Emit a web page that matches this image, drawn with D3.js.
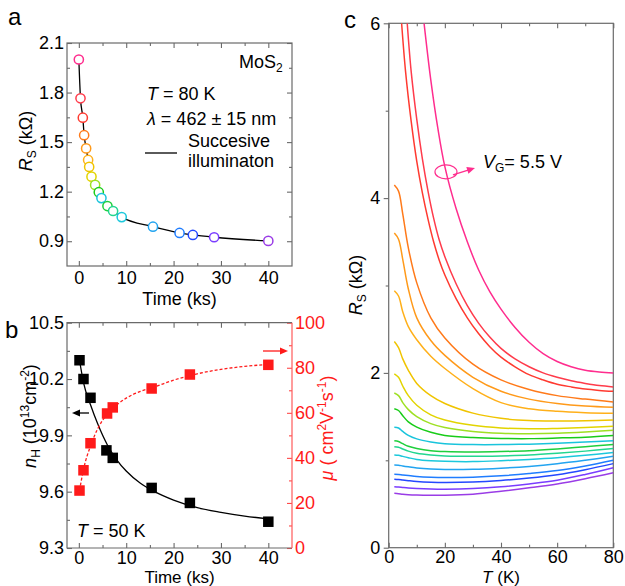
<!DOCTYPE html>
<html>
<head>
<meta charset="utf-8">
<script src="https://cdn.jsdelivr.net/npm/d3@7"></script>
<style>
  body { margin: 0; background: #fff; }
  svg text { font-family: Arial, "Liberation Sans", sans-serif; }
</style>
</head>
<body>
<svg id="fig" width="625" height="586"></svg>
<script>
// ---- panel a : R_s vs time under successive illumination ----
var timeA = [0, 0.35, 0.84, 1.12, 1.54, 1.96, 2.18, 2.67, 3.44, 4.21, 4.77, 6.04, 7.23, 9.05, 15.65, 21.26, 24.07, 28.56, 40];
var rsA = [2.00, 1.765, 1.648, 1.542, 1.462, 1.392, 1.35, 1.291, 1.241, 1.197, 1.161, 1.113, 1.083, 1.046, 0.988, 0.950, 0.938, 0.924, 0.902];
var stepColors = ['#ff2d8e', '#ff3b4b', '#ff3a30', '#ff7a1a', '#ff9a1a', '#ffb01a', '#f0c400', '#e2d400', '#9ee023',
                  '#18cc18', '#19c4dc', '#1fcf3d', '#22d690', '#1cc8dc', '#22a4f0', '#1f7dff', '#2448ff', '#7a3cff', '#9a3ce6'];

// ---- panel b : Hall density and mobility ----
var timeB = [0.14, 0.98, 2.46, 5.82, 7.16, 15.37, 23.44, 40];
var nH = [10.30, 10.20, 10.10, 9.82, 9.78, 9.62, 9.54, 9.44];
var timeMu = [0.14, 0.98, 2.46, 5.96, 7.16, 15.37, 23.44, 40];
var mu = [25.5, 34.5, 46.5, 59.7, 62.4, 70.8, 77.0, 81.3];
var nHFitT = [0.14, 1, 2.5, 4, 6, 8, 10, 13, 16, 20, 25, 30, 35, 40];
var nHFit = [10.30, 10.18, 10.06, 9.96, 9.85, 9.77, 9.71, 9.645, 9.60, 9.555, 9.515, 9.49, 9.47, 9.455];
var muFitT = [0.14, 1, 2.5, 4, 6, 8, 10, 13, 16, 20, 25, 30, 35, 40];
var muFit = [25.5, 35, 45.5, 53, 59.5, 63.5, 66.5, 69.5, 71.5, 74.5, 77.3, 79.3, 80.6, 81.5];

// ---- panel c : R_s(T) for each gate step ----
var tGrid = [2, 3.5, 5, 7, 10, 15, 20, 30, 40, 50, 60, 70, 80];
var curveTop = [
  [[12.6, 6], [15, 5.35], [17.5, 4.8], [20, 4.36], [24, 3.88], [28, 3.5], [32, 3.18], [36, 2.93], [40, 2.73], [45, 2.52],
   [50, 2.35], [55, 2.22], [60, 2.13], [65, 2.07], [70, 2.03], [75, 2.01], [80, 2.0]],
  [[6.6, 6], [8, 5.45], [10, 4.9], [12, 4.45], [14, 4.08], [16, 3.77], [18, 3.52], [20, 3.33], [24, 3.02], [28, 2.77],
   [32, 2.57], [36, 2.41], [40, 2.28], [45, 2.16], [50, 2.07], [55, 2.0], [60, 1.95], [65, 1.91], [70, 1.88], [75, 1.855], [80, 1.84]],
  [[4.6, 6], [6, 5.45], [8, 4.88], [10, 4.42], [12, 4.06], [14, 3.76], [16, 3.5], [18, 3.29], [20, 3.12], [24, 2.85],
   [28, 2.63], [32, 2.45], [36, 2.3], [40, 2.18], [45, 2.07], [50, 1.98], [55, 1.92], [60, 1.87], [65, 1.84], [70, 1.815], [75, 1.8], [80, 1.79]]
];
var curveLow = [
  [4.15, 4.08, 3.82, 3.43, 3.03, 2.63, 2.40, 2.10, 1.92, 1.81, 1.74, 1.70, 1.667],
  [3.60, 3.53, 3.30, 2.96, 2.63, 2.37, 2.20, 1.95, 1.79, 1.70, 1.65, 1.62, 1.606],
  [2.94, 2.88, 2.70, 2.53, 2.38, 2.19, 2.05, 1.82, 1.66, 1.59, 1.56, 1.545, 1.538],
  [2.36, 2.29, 2.16, 2.03, 1.88, 1.74, 1.65, 1.54, 1.48, 1.455, 1.45, 1.452, 1.46],
  [1.99, 1.95, 1.85, 1.74, 1.63, 1.52, 1.46, 1.40, 1.37, 1.36, 1.365, 1.375, 1.39],
  [1.77, 1.74, 1.66, 1.58, 1.50, 1.42, 1.375, 1.33, 1.31, 1.305, 1.31, 1.325, 1.345],
  [1.59, 1.57, 1.51, 1.44, 1.38, 1.32, 1.285, 1.26, 1.25, 1.248, 1.255, 1.265, 1.285],
  [1.377, 1.37, 1.33, 1.285, 1.245, 1.21, 1.19, 1.18, 1.18, 1.185, 1.195, 1.21, 1.225],
  [1.224, 1.215, 1.19, 1.16, 1.135, 1.11, 1.10, 1.095, 1.10, 1.11, 1.13, 1.155, 1.18],
  [1.156, 1.15, 1.13, 1.105, 1.08, 1.06, 1.05, 1.045, 1.05, 1.06, 1.08, 1.105, 1.135],
  [1.061, 1.057, 1.045, 1.03, 1.01, 0.995, 0.988, 0.985, 0.995, 1.01, 1.03, 1.057, 1.09],
  [0.946, 0.944, 0.935, 0.925, 0.912, 0.90, 0.895, 0.897, 0.91, 0.93, 0.96, 1.0, 1.045],
  [0.84, 0.838, 0.832, 0.825, 0.815, 0.806, 0.802, 0.806, 0.822, 0.848, 0.882, 0.935, 1.0],
  [0.783, 0.78, 0.774, 0.767, 0.758, 0.75, 0.747, 0.752, 0.77, 0.797, 0.835, 0.893, 0.962],
  [0.698, 0.695, 0.69, 0.684, 0.678, 0.672, 0.67, 0.677, 0.697, 0.73, 0.772, 0.838, 0.915],
  [0.622, 0.618, 0.612, 0.607, 0.603, 0.60, 0.60, 0.612, 0.645, 0.685, 0.73, 0.79, 0.858]
];

var svg = d3.select('#fig');
var fs = 18;
var frameColor = '#6a6a6a';

// major + minor ticks on one side, labels only on major
function axisPair(g, axisFn, scale, major, minor, pos, size, fmt, pad, color) {
  var a = g.append('g').attr('transform', pos)
    .call(axisFn(scale).tickValues(major).tickSize(size).tickSizeOuter(0).tickPadding(pad)
      .tickFormat(fmt === null ? '' : fmt));
  a.select('.domain').remove();
  a.selectAll('line').attr('stroke', color || frameColor).attr('stroke-width', 1.1);
  a.selectAll('text').style('font-size', fs + 'px').attr('fill', '#000');
  var m = g.append('g').attr('transform', pos)
    .call(axisFn(scale).tickValues(minor).tickSize(size * 0.6).tickSizeOuter(0).tickFormat(''));
  m.select('.domain').remove();
  m.selectAll('line').attr('stroke', color || frameColor).attr('stroke-width', 1.1);
  return a;
}

function frame(g, x0, x1, y0, y1) {
  g.append('rect').attr('x', x0).attr('y', y0).attr('width', x1 - x0).attr('height', y1 - y0)
    .attr('fill', 'none').attr('stroke', frameColor).attr('stroke-width', 1.2);
}

function arrow(g, x1, y1, x2, y2, color) {
  var ang = Math.atan2(y2 - y1, x2 - x1), L = 8, W = 3.5;
  g.append('line').attr('x1', x1).attr('y1', y1)
    .attr('x2', x2 - Math.cos(ang) * L * 0.8).attr('y2', y2 - Math.sin(ang) * L * 0.8)
    .attr('stroke', color).attr('stroke-width', 1.3);
  var bx = x2 - Math.cos(ang) * L, by = y2 - Math.sin(ang) * L;
  g.append('path')
    .attr('d', 'M' + x2 + ',' + y2 + 'L' + (bx - Math.sin(ang) * W) + ',' + (by + Math.cos(ang) * W) +
      'L' + (bx + Math.sin(ang) * W) + ',' + (by - Math.cos(ang) * W) + 'Z')
    .attr('fill', color);
}

function subLabel(g, x, y, rot, parts, color) {
  var t = g.append('text').attr('transform', 'translate(' + x + ',' + y + ')' + (rot ? ' rotate(-90)' : ''))
    .attr('text-anchor', 'middle').style('font-size', fs + 'px').attr('fill', color || '#000');
  parts.forEach(function (p) {
    var s = t.append('tspan').text(p.t);
    if (p.i) s.style('font-style', 'italic');
    if (p.sub) s.style('font-size', '12px').attr('dy', 4);
    if (p.sup) s.style('font-size', '12px').attr('dy', -7);
    if (p.back) s.attr('dy', p.back);
  });
  return t;
}

// ================= panel a =================
var ga = svg.append('g');
var xA = d3.scaleLinear().domain([-2.5, 45]).range([67, 292]);
var yA = d3.scaleLinear().domain([0.75, 2.1]).range([266, 43]);

axisPair(ga, d3.axisBottom, xA, [0, 10, 20, 30, 40], [5, 15, 25, 35], 'translate(0,266)', -5, d3.format('d'), 5);
axisPair(ga, d3.axisTop, xA, [0, 10, 20, 30, 40], [5, 15, 25, 35], 'translate(0,43)', -5, null, 3);
axisPair(ga, d3.axisLeft, yA, [0.9, 1.2, 1.5, 1.8, 2.1], [1.05, 1.35, 1.65, 1.95], 'translate(67,0)', -5, d3.format('.1f'), 3);
axisPair(ga, d3.axisRight, yA, [0.9, 1.2, 1.5, 1.8, 2.1], [1.05, 1.35, 1.65, 1.95], 'translate(292,0)', -5, null, 3);
frame(ga, 67, 292, 43, 266);

var lineA = d3.line().x(function (d, i) { return xA(timeA[i]); }).y(function (d) { return yA(d); })
  .curve(d3.curveMonotoneX);
ga.append('path').attr('d', lineA(rsA)).attr('fill', 'none').attr('stroke', '#000').attr('stroke-width', 1.3);

ga.selectAll('circle.pt').data(rsA).enter().append('circle')
  .attr('cx', function (d, i) { return xA(timeA[i]); })
  .attr('cy', function (d) { return yA(d); })
  .attr('r', 4.6).attr('fill', '#fff')
  .attr('stroke', function (d, i) { return stepColors[i]; }).attr('stroke-width', 1.5);

ga.append('text').attr('x', 8).attr('y', 25).style('font-size', '24px').text('a');
subLabel(ga, 32, 141, true, [{ t: 'R', i: true }, { t: 'S', sub: true }, { t: ' (kΩ)', back: -4 }]);
ga.append('text').attr('x', 179.5).attr('y', 305).attr('text-anchor', 'middle').style('font-size', fs + 'px').text('Time (ks)');

var ma = ga.append('text').attr('x', 239).attr('y', 68).style('font-size', fs + 'px');
ma.append('tspan').text('MoS');
ma.append('tspan').text('2').style('font-size', '12px').attr('dy', 4);
var ta = ga.append('text').attr('x', 147).attr('y', 100).style('font-size', fs + 'px');
ta.append('tspan').text('T').style('font-style', 'italic');
ta.append('tspan').text(' = 80 K');
var la = ga.append('text').attr('x', 147).attr('y', 125).style('font-size', fs + 'px');
la.append('tspan').text('λ').style('font-style', 'italic');
la.append('tspan').text(' = 462 ± 15 nm');
ga.append('line').attr('x1', 145).attr('x2', 177).attr('y1', 153).attr('y2', 153).attr('stroke', '#000').attr('stroke-width', 1.3);
ga.append('text').attr('x', 188).attr('y', 147).style('font-size', fs + 'px').text('Succesive');
ga.append('text').attr('x', 188).attr('y', 167).style('font-size', fs + 'px').text('illuminaton');

// ================= panel b =================
var gb = svg.append('g');
var xB = d3.scaleLinear().domain([-2.5, 45]).range([67, 292]);
var yB = d3.scaleLinear().domain([9.3, 10.5]).range([548, 322.7]);
var yMu = d3.scaleLinear().domain([0, 100]).range([548, 322.7]);
var red = '#ff1a1a';

axisPair(gb, d3.axisBottom, xB, [0, 10, 20, 30, 40], [5, 15, 25, 35], 'translate(0,548)', -5, d3.format('d'), 3);
axisPair(gb, d3.axisTop, xB, [0, 10, 20, 30, 40], [5, 15, 25, 35], 'translate(0,322.7)', -5, null, 3);
axisPair(gb, d3.axisLeft, yB, [9.3, 9.6, 9.9, 10.2, 10.5], [9.45, 9.75, 10.05, 10.35], 'translate(67,0)', -5, d3.format('.1f'), 3);
var rAx = axisPair(gb, d3.axisRight, yMu, [0, 20, 40, 60, 80, 100], [10, 30, 50, 70, 90], 'translate(292,0)', -5, d3.format('d'), 3, '#ff4a4a');
rAx.selectAll('text').attr('fill', red);
gb.append('path').attr('d', 'M292,322.7H67V548H292').attr('fill', 'none').attr('stroke', frameColor).attr('stroke-width', 1.2);
gb.append('line').attr('x1', 292).attr('x2', 292).attr('y1', 322.7).attr('y2', 548).attr('stroke', '#ff5a5a').attr('stroke-width', 1.2);

var lineN = d3.line().x(function (d, i) { return xB(nHFitT[i]); }).y(function (d) { return yB(d); }).curve(d3.curveMonotoneX);
gb.append('path').attr('d', lineN(nHFit)).attr('fill', 'none').attr('stroke', '#000').attr('stroke-width', 1.3);
var lineM = d3.line().x(function (d, i) { return xB(muFitT[i]); }).y(function (d) { return yMu(d); }).curve(d3.curveMonotoneX);
gb.append('path').attr('d', lineM(muFit)).attr('fill', 'none').attr('stroke', red).attr('stroke-width', 1.3)
  .attr('stroke-dasharray', '3,2');

var sq = 10.5;
gb.selectAll('rect.n').data(nH).enter().append('rect')
  .attr('x', function (d, i) { return xB(timeB[i]) - sq / 2; })
  .attr('y', function (d) { return yB(d) - sq / 2; })
  .attr('width', sq).attr('height', sq).attr('fill', '#000');
gb.selectAll('rect.m').data(mu).enter().append('rect')
  .attr('x', function (d, i) { return xB(timeMu[i]) - sq / 2; })
  .attr('y', function (d) { return yMu(d) - sq / 2; })
  .attr('width', sq).attr('height', sq).attr('fill', red);

arrow(gb, 89, 413, 72, 413, '#000');
arrow(gb, 263, 351, 288, 351, red);

gb.append('text').attr('x', 5).attr('y', 338).style('font-size', '24px').text('b');
subLabel(gb, 36, 416, true, [{ t: 'n', i: true }, { t: 'H', sub: true }, { t: ' (10', back: -4 }, { t: '13', sup: true },
  { t: 'cm', back: 7 }, { t: '-2', sup: true }, { t: ')', back: 7 }]);
subLabel(gb, 333, 428, true, [{ t: 'μ', i: true }, { t: ' ( cm' }, { t: '2', sup: true }, { t: 'V', back: 7 }, { t: '-1', sup: true },
  { t: 's', back: 7 }, { t: '-1', sup: true }, { t: ')', back: 7 }], red);
gb.append('text').attr('x', 179.5).attr('y', 583).attr('text-anchor', 'middle').style('font-size', '17px').text('Time (ks)');
var tb = gb.append('text').attr('x', 77).attr('y', 537).style('font-size', fs + 'px');
tb.append('tspan').text('T').style('font-style', 'italic');
tb.append('tspan').text(' = 50 K');

// ================= panel c =================
var gc = svg.append('g');
var xC = d3.scaleLinear().domain([0, 80]).range([388.7, 613.3]);
var yC = d3.scaleLinear().domain([0, 6]).range([547.7, 23.3]);

axisPair(gc, d3.axisBottom, xC, [0, 20, 40, 60, 80], [10, 30, 50, 70], 'translate(0,547.7)', -5, d3.format('d'), 3);
axisPair(gc, d3.axisTop, xC, [0, 20, 40, 60, 80], [10, 30, 50, 70], 'translate(0,23.3)', -5, null, 3);
axisPair(gc, d3.axisLeft, yC, [0, 2, 4, 6], [1, 3, 5], 'translate(388.7,0)', 5, d3.format('d'), 3.5);
frame(gc, 388.7, 613.3, 23.3, 547.7);

gc.append('clipPath').attr('id', 'clipC').append('rect')
  .attr('x', 388.7).attr('y', 23.3).attr('width', 224.6).attr('height', 524.4);
var lineC = d3.line().x(function (d) { return xC(d[0]); }).y(function (d) { return yC(d[1]); })
  .curve(d3.curveCatmullRom.alpha(0.5));
var curvesG = gc.append('g').attr('clip-path', 'url(#clipC)');
curveTop.forEach(function (c, i) {
  curvesG.append('path').attr('d', lineC(c)).attr('fill', 'none').attr('stroke', stepColors[i]).attr('stroke-width', 1.5);
});
curveLow.forEach(function (vals, k) {
  var pts = vals.map(function (v, j) { return [tGrid[j], v]; });
  curvesG.append('path').attr('d', lineC(pts)).attr('fill', 'none').attr('stroke', stepColors[k + 3]).attr('stroke-width', 1.5);
});

// gate label with ring marker
gc.append('ellipse').attr('cx', xC(20.4)).attr('cy', yC(4.30)).attr('rx', 11).attr('ry', 7)
  .attr('fill', 'none').attr('stroke', stepColors[0]).attr('stroke-width', 1.2);
arrow(gc, xC(20.4) + 7, yC(4.30) + 3, xC(20.4) + 29, yC(4.30) - 4, stepColors[0]);
var vg = gc.append('text').attr('x', 483).attr('y', 168).style('font-size', fs + 'px');
vg.append('tspan').text('V').style('font-style', 'italic');
vg.append('tspan').text('G').style('font-size', '12px').attr('dy', 4);
vg.append('tspan').text('= 5.5 V').attr('dy', -4);

gc.append('text').attr('x', 344).attr('y', 28).style('font-size', '24px').text('c');
subLabel(gc, 362, 285, true, [{ t: 'R', i: true }, { t: 'S', sub: true }, { t: ' (kΩ)', back: -4 }]);
var tc = gc.append('text').attr('x', 501).attr('y', 583).attr('text-anchor', 'middle').style('font-size', '17px');
tc.append('tspan').text('T').style('font-style', 'italic');
tc.append('tspan').text(' (K)');
</script>
</body>
</html>
